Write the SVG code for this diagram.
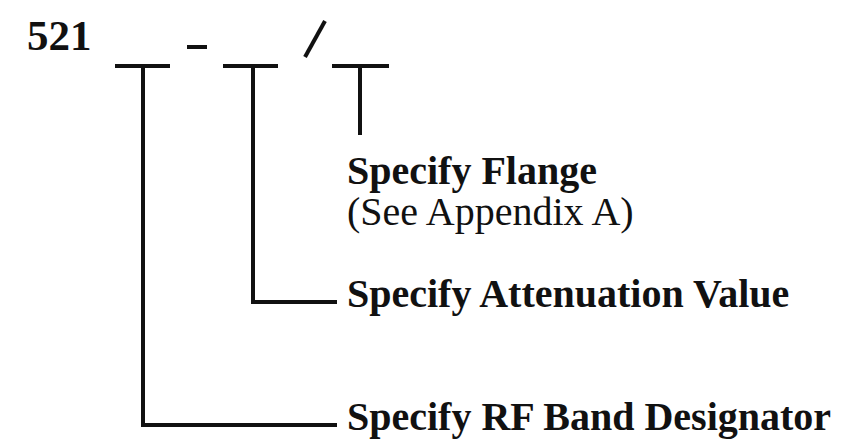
<svg xmlns="http://www.w3.org/2000/svg" width="844" height="440" viewBox="0 0 844 440">
<style>
.b{font-family:"Liberation Serif","Times New Roman",serif;font-weight:bold;font-size:40px;fill:#111}
.r{font-family:"Liberation Serif","Times New Roman",serif;font-size:40px;fill:#111}
.ln{fill:none;stroke:#111;stroke-width:4;stroke-linecap:butt;stroke-linejoin:miter}
</style>
<rect width="844" height="440" fill="#fff"/>
<g id="prefix">
<text class="b" x="27" y="50" style="font-size:43px">521</text>
<line class="ln" x1="187" y1="47" x2="207" y2="47"/>
<line class="ln" x1="305" y1="57" x2="325" y2="21"/>
</g>
<g id="slot1">
<line class="ln" x1="115" y1="66" x2="170" y2="66"/>
</g>
<g id="slot2">
<line class="ln" x1="223" y1="66" x2="278" y2="66"/>
</g>
<g id="slot3">
<line class="ln" x1="332" y1="66" x2="389" y2="66"/>
</g>
<g id="flange">
<text class="b" x="347" y="184">Specify Flange</text>
<text class="r" x="347" y="225">(See Appendix A)</text>
</g>
<g id="attenuation">
<text class="b" x="347" y="307">Specify Attenuation Value</text>
</g>
<g id="band">
<text class="b" x="347" y="430">Specify RF Band Designator</text>
</g>
<g id="connectors">
<polyline class="ln" points="143,66 143,425 337,425"/>
<polyline class="ln" points="253,66 253,302 337,302"/>
<line class="ln" x1="360" y1="66" x2="360" y2="135"/>
</g>
</svg>
